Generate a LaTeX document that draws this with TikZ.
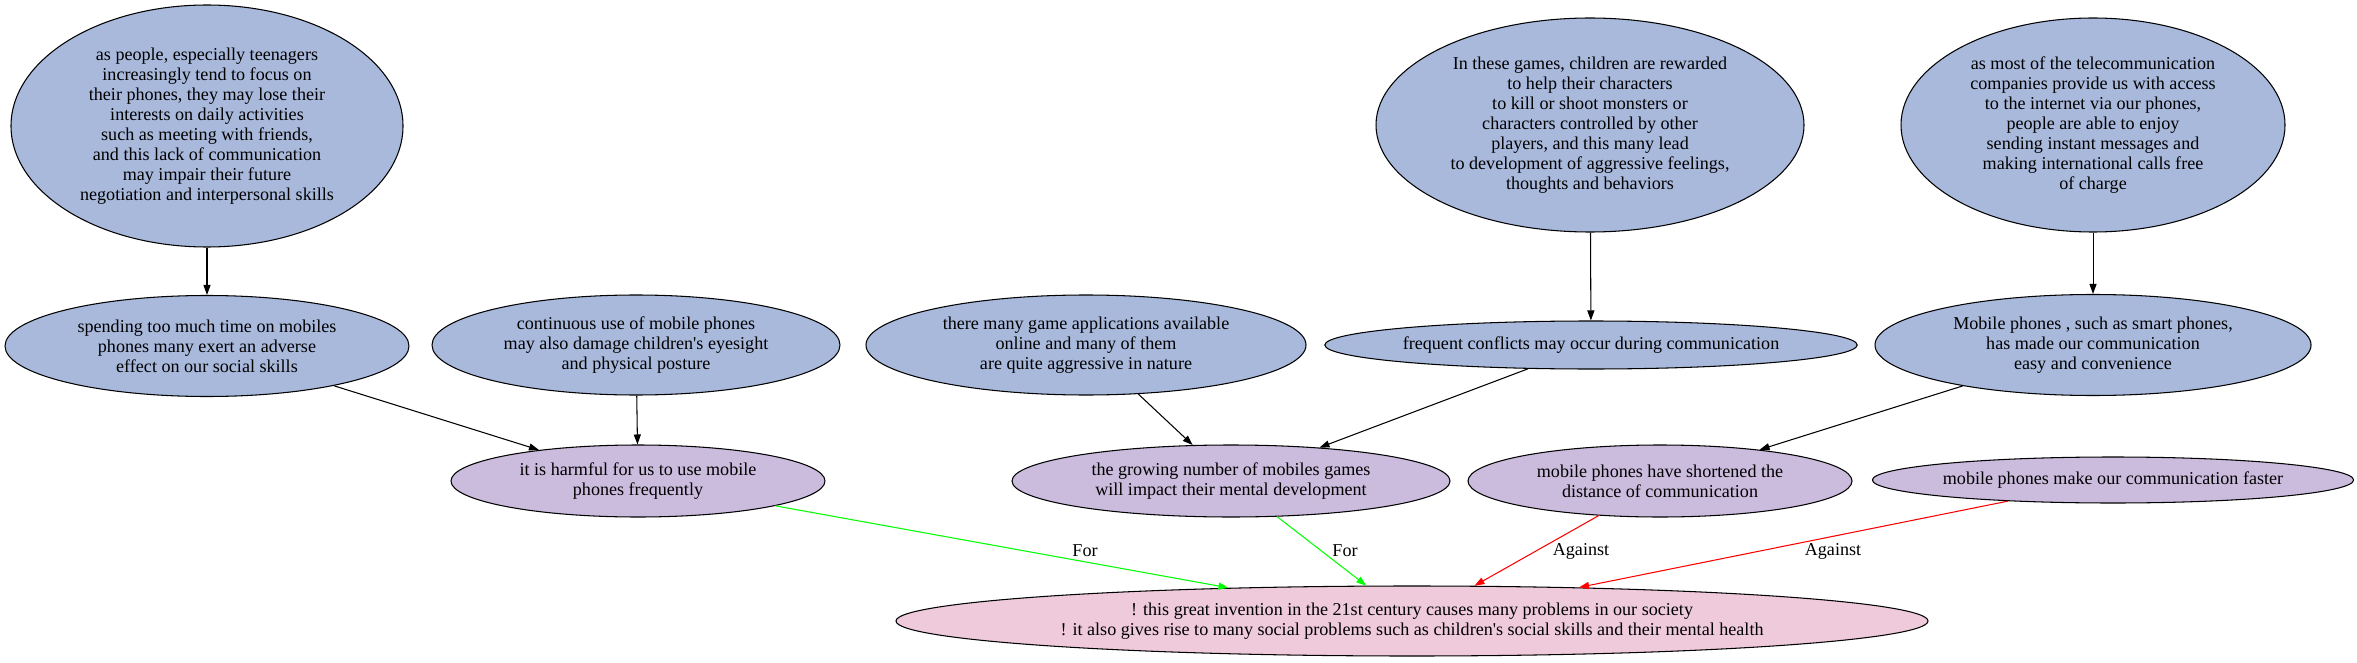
\documentclass[tikz,border=0pt]{standalone}
\usepackage{fontspec}
\setmainfont{Liberation Serif}
\usetikzlibrary{arrows.meta, shapes.geometric}
\definecolor{argblue}{HTML}{A9B9DC}
\definecolor{claimlilac}{HTML}{CBBBDD}
\definecolor{goalpink}{HTML}{EECADB}
\definecolor{forgreen}{HTML}{00FF00}
\definecolor{againstred}{HTML}{FF0000}

\begin{document}
\begin{tikzpicture}[>={Triangle[length=2mm, width=1.4mm]},
  every node/.style={font=\fontsize{10.3}{11.4}\selectfont, align=center},
  bubble/.style={ellipse, draw=black, line width=0.6pt, inner sep=0pt},
  premise/.style={bubble, fill=argblue},
  claim/.style={bubble, fill=claimlilac},
  goal/.style={bubble, fill=goalpink},
  link/.style={black, line width=0.6pt, ->},
  pro/.style={forgreen, line width=0.6pt, ->},
  con/.style={againstred, line width=0.6pt, ->}]

% Canvas
\useasboundingbox (0,0) rectangle (47.14,13.24);

% ================================================================
% Top row: supporting evidence
% ================================================================
\node[premise, minimum width=7.84cm, minimum height=4.84cm] (people) at (4.14,10.72)
  {as people, especially teenagers\\increasingly tend to focus on\\their phones, they may lose their\\interests on daily activities\\such as meeting with friends,\\and this lack of communication\\may impair their future\\negotiation and interpersonal skills};

\node[premise, minimum width=8.56cm, minimum height=4.28cm] (rewarded) at (31.8,10.74)
  {In these games, children are rewarded\\to help their characters\\to kill or shoot monsters or\\characters controlled by other\\players, and this many lead\\to development of aggressive feelings,\\thoughts and behaviors};

\node[premise, minimum width=7.68cm, minimum height=4.28cm] (telecom) at (41.86,10.74)
  {as most of the telecommunication\\companies provide us with access\\to the internet via our phones,\\people are able to enjoy\\sending instant messages and\\making international calls free\\of charge};

% ================================================================
% Middle row: reasons
% ================================================================
\node[premise, minimum width=8.08cm, minimum height=2.02cm] (spending) at (4.14,6.32)
  {spending too much time on mobiles\\phones many exert an adverse\\effect on our social skills};

\node[premise, minimum width=8.16cm, minimum height=2.0cm] (eyesight) at (12.72,6.34)
  {continuous use of mobile phones\\may also damage children\textquotesingle s eyesight\\and physical posture};

\node[premise, minimum width=8.8cm, minimum height=2.0cm] (gameapps) at (21.72,6.34)
  {there many game applications available\\online and many of them\\are quite aggressive in nature};

\node[premise, minimum width=10.48cm, minimum height=0.96cm] (conflicts) at (31.82,6.34)
  {frequent conflicts may occur during communication};

\node[premise, minimum width=8.72cm, minimum height=2.02cm] (convenience) at (41.86,6.34)
  {Mobile phones , such as smart phones,\\has made our communication\\easy and convenience};

% ================================================================
% Lower row: claims
% ================================================================
\node[claim, minimum width=7.48cm, minimum height=1.44cm] (harmful) at (12.76,3.62)
  {it is harmful for us to use mobile\\phones frequently};

\node[claim, minimum width=8.76cm, minimum height=1.44cm] (growing) at (24.62,3.62)
  {the growing number of mobiles games\\will impact their mental development};

\node[claim, minimum width=7.68cm, minimum height=1.44cm] (shortened) at (33.2,3.62)
  {mobile phones have shortened the\\distance of communication};

\node[claim, minimum width=9.52cm, minimum height=0.92cm] (faster) at (42.26,3.64)
  {mobile phones make our communication faster};

% ================================================================
% Bottom: main position
% ================================================================
\node[goal, minimum width=20.64cm, minimum height=1.4cm] (society) at (28.24,0.82)
  {! this great invention in the 21st century causes many problems in our society\\! it also gives rise to many social problems such as children\textquotesingle s social skills and their mental health};

% Support links
\draw[link] (people) -- (spending);
\draw[link] (rewarded) -- (conflicts);
\draw[link] (telecom) -- (convenience);
\draw[link] (spending) -- (harmful);
\draw[link] (eyesight) -- (harmful);
\draw[link] (gameapps) -- (growing);
\draw[link] (conflicts) -- (growing);
\draw[link] (convenience) -- (shortened);

% For / Against links
\draw[pro] (harmful) -- (society);
\draw[pro] (growing) -- (society);
\draw[con] (shortened) -- (society);
\draw[con] (faster) -- (society);

\node (forharm) at (21.7,2.22) {For};
\node (forgame) at (26.9,2.22) {For};
\node (againstdist) at (31.62,2.22) {Against};
\node (againstfast) at (36.66,2.22) {Against};

\end{tikzpicture}
\end{document}
